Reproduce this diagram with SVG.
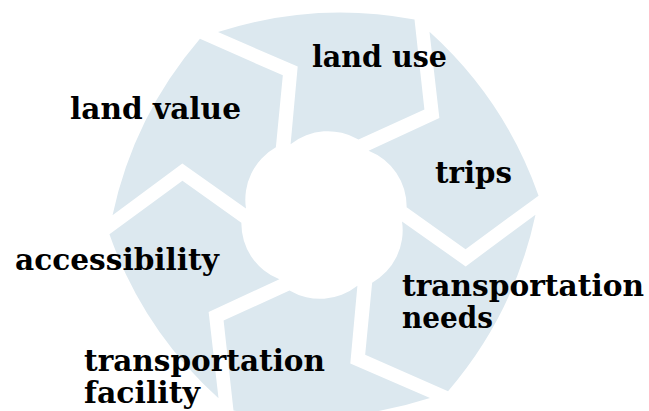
<svg xmlns="http://www.w3.org/2000/svg" xmlns:xlink="http://www.w3.org/1999/xlink" width="649" height="411" viewBox="0 0 649 411">
  <style>
    .seg { fill: #dce8ef; stroke: none; }
    .lbl { font-family: "DejaVu Serif", "Liberation Serif", serif; font-weight: bold; font-size: 29px; fill: #000000; }
  </style>
  <defs>
    <path id="segment" class="seg" d="M 218,32 A 400 400 0 0 1 414.5,19.5 L 424.4,109.5 L 358.5,139.5 A 60 60 0 0 0 290.6,144.2 L 297.7,66.6 Z"/>
  </defs>
  <rect x="0" y="0" width="649" height="411" fill="#ffffff"/>
  <g id="connectors">
    <use xlink:href="#segment" href="#segment"/>
    <use xlink:href="#segment" href="#segment" transform="rotate(60 324 215)"/>
    <use xlink:href="#segment" href="#segment" transform="rotate(120 324 215)"/>
    <use xlink:href="#segment" href="#segment" transform="rotate(180 324 215)"/>
    <use xlink:href="#segment" href="#segment" transform="rotate(240 324 215)"/>
    <use xlink:href="#segment" href="#segment" transform="rotate(300 324 215)"/>
  </g>
  <g id="node-land-use">
    <text class="lbl" x="312" y="67" textLength="135" lengthAdjust="spacingAndGlyphs">land use</text>
  </g>
  <g id="node-trips">
    <text class="lbl" x="435" y="183" textLength="77" lengthAdjust="spacingAndGlyphs">trips</text>
  </g>
  <g id="node-transportation-needs">
    <text class="lbl" x="402" y="296" textLength="242" lengthAdjust="spacingAndGlyphs">transportation</text>
    <text class="lbl" x="402" y="328" textLength="91" lengthAdjust="spacingAndGlyphs">needs</text>
  </g>
  <g id="node-transportation-facility">
    <text class="lbl" x="84" y="371" textLength="241" lengthAdjust="spacingAndGlyphs">transportation</text>
    <text class="lbl" x="84" y="403" textLength="116" lengthAdjust="spacingAndGlyphs">facility</text>
  </g>
  <g id="node-accessibility">
    <text class="lbl" x="15" y="270" textLength="204" lengthAdjust="spacingAndGlyphs">accessibility</text>
  </g>
  <g id="node-land-value">
    <text class="lbl" x="70" y="119" textLength="171" lengthAdjust="spacingAndGlyphs">land value</text>
  </g>
</svg>
